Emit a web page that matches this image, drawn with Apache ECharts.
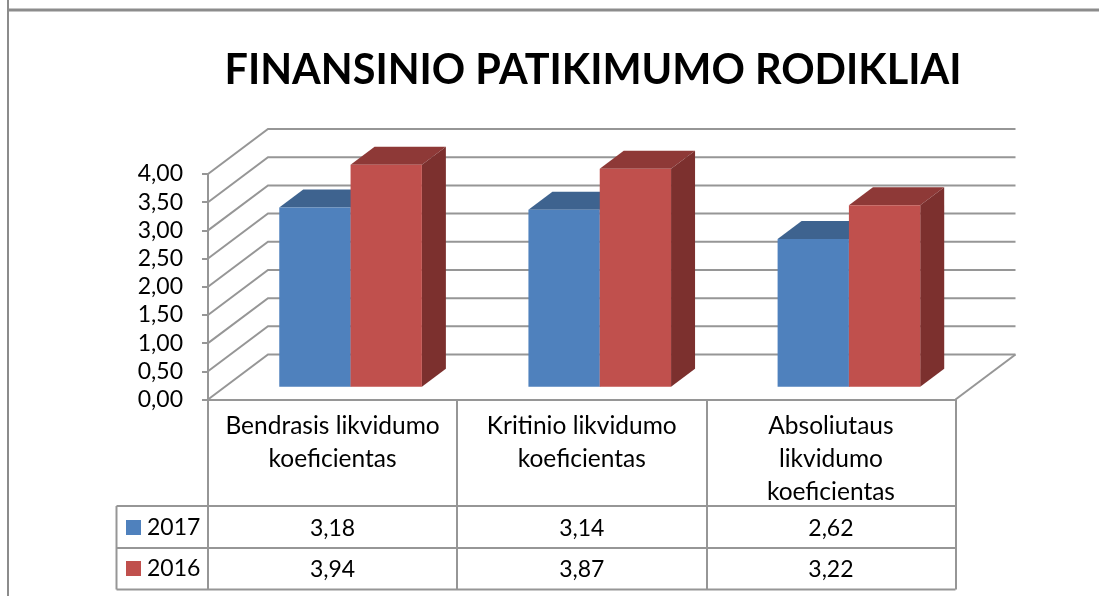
<!DOCTYPE html>
<html>
<head>
<meta charset="utf-8">
<title>Finansinio patikimumo rodikliai</title>
<style>
  html, body { margin: 0; padding: 0; background: #fff; }
  #chart { width: 1099px; height: 596px; }
</style>
<script src="https://cdn.jsdelivr.net/npm/echarts@6/dist/echarts.min.js"></script>
</head>
<body>
<div id="chart"></div>
<script>
  const categories = ['Bendrasis likvidumo\nkoeficientas', 'Kritinio likvidumo\nkoeficientas', 'Absoliutaus\nlikvidumo\nkoeficientas']
  const years = ['2017', '2016']
  const values2017 = [3.18, 3.14, 2.62]
  const values2016 = [3.94, 3.87, 3.22]
  const yTicks = [0, 0.5, 1, 1.5, 2, 2.5, 3, 3.5, 4]

  const FONT = 'Lato'
  const LINE = '#969696'
  // perspective of the wall and of the bars, in pixels
  const WALL_DX = 60
  const WALL_DY = 45
  const DEPTH_DX = 24
  const DEPTH_DY = 18
  const FLOOR_DY = 12.7
  const ROW_Y = [529, 570]

  const fmt = (v) => v.toFixed(2).replace('.', ',')

  function renderWall(params, api) {
    const p = api.coord([0, api.value(0)])
    const left = p[0] - api.size([1, 0])[0] / 2
    const right = left + api.size([1, 0])[0] * 3
    return {
      type: 'polyline',
      silent: true,
      shape: { points: [[left, p[1]], [left + WALL_DX, p[1] - WALL_DY], [right + WALL_DX, p[1] - WALL_DY]] },
      style: { stroke: LINE, lineWidth: 2, fill: null }
    }
  }

  function renderFloor(params, api) {
    const p = api.coord([2, 0])
    const right = p[0] + api.size([1, 0])[0] / 2
    return {
      type: 'line',
      silent: true,
      shape: { x1: right, y1: p[1], x2: right + WALL_DX, y2: p[1] - WALL_DY },
      style: { stroke: LINE, lineWidth: 2 }
    }
  }

  function barRenderer(index, front, top, side) {
    return function (params, api) {
      const band = api.size([1, 0])[0]
      const w = band * 0.2862
      const c = api.coord([api.value(0), api.value(1)])
      const base = api.coord([api.value(0), 0])
      const x = base[0] - band / 2 + band * 0.286 + w * index
      const y0 = base[1] - FLOOR_DY
      const y1 = c[1] - FLOOR_DY
      return {
        type: 'group',
        children: [
          {
            type: 'polygon',
            shape: { points: [[x, y1], [x + DEPTH_DX, y1 - DEPTH_DY], [x + w + DEPTH_DX, y1 - DEPTH_DY], [x + w, y1]] },
            style: { fill: top }
          },
          {
            type: 'polygon',
            shape: { points: [[x + w, y1], [x + w + DEPTH_DX, y1 - DEPTH_DY], [x + w + DEPTH_DX, y0 - DEPTH_DY], [x + w, y0]] },
            style: { fill: side }
          },
          { type: 'rect', shape: { x: x, y: y1, width: w, height: y0 - y1 }, style: { fill: front } }
        ]
      }
    }
  }

  function renderRow(row) {
    return function (params, api) {
      const p = api.coord([api.value(0), 0])
      return {
        type: 'text',
        silent: true,
        style: {
          x: p[0],
          y: ROW_Y[row],
          text: fmt(api.value(1)),
          fill: '#000',
          font: '23px ' + FONT,
          align: 'center',
          verticalAlign: 'middle'
        }
      }
    }
  }

  function renderRules(params, api) {
    const p = api.coord([2, 0])
    const right = p[0] + api.size([1, 0])[0] / 2
    const y = [506, 548, 589.5][params.dataIndex]
    return {
      type: 'line',
      silent: true,
      shape: { x1: 116.5, y1: y, x2: right, y2: y },
      style: { stroke: LINE, lineWidth: 2 }
    }
  }

  const myChart = echarts.init(document.getElementById('chart'), null, { renderer: 'canvas' })
  myChart.setOption({
    animation: false,
    backgroundColor: '#fff',
    title: {
      text: 'FINANSINIO PATIKIMUMO RODIKLIAI',
      left: 588,
      top: 45,
      textAlign: 'center',
      textStyle: { fontFamily: FONT, fontSize: 41.4, fontWeight: 'bold', color: '#000' }
    },
    legend: {
      data: years,
      orient: 'vertical',
      left: 121,
      top: 511,
      itemWidth: 15,
      itemHeight: 15,
      itemGap: 18,
      icon: 'rect',
      selectedMode: false,
      textStyle: { fontFamily: FONT, fontSize: 23, color: '#000', padding: [0, 0, 0, 1] }
    },
    grid: { left: 208, top: 174, width: 747.5, height: 225.5 },
    xAxis: {
      type: 'category',
      data: categories,
      axisLine: { lineStyle: { color: LINE, width: 2 } },
      axisTick: { show: true, length: 190, lineStyle: { color: LINE, width: 2 } },
      axisLabel: {
        interval: 0,
        margin: 10,
        color: '#000',
        fontFamily: FONT,
        fontSize: 24.5,
        lineHeight: 33,
        verticalAlign: 'top'
      }
    },
    yAxis: {
      type: 'value',
      min: 0,
      max: 4,
      interval: 0.5,
      splitLine: { show: false },
      axisLine: { show: true, lineStyle: { color: LINE, width: 2 } },
      axisTick: { show: true, length: 6, lineStyle: { color: LINE, width: 2 } },
      axisLabel: { margin: 25, color: '#000', fontFamily: FONT, fontSize: 23, padding: [8, 0, 0, 0], formatter: fmt }
    },
    series: [
      { type: 'custom', name: 'wall', z: 1, renderItem: renderWall, encode: { y: 0 }, data: yTicks.map((v) => [v]), tooltip: { show: false } },
      { type: 'custom', name: 'floor', z: 1, renderItem: renderFloor, data: [[0]] },
      {
        type: 'custom',
        name: years[0],
        z: 2,
        itemStyle: { color: '#4F81BD' },
        renderItem: barRenderer(0, '#4F81BD', '#3E638F', '#3A5C85'),
        encode: { x: 0, y: 1 },
        data: values2017.map((v, i) => [i, v])
      },
      {
        type: 'custom',
        name: years[1],
        z: 3,
        itemStyle: { color: '#C0504D' },
        renderItem: barRenderer(1, '#C0504D', '#8E3937', '#7C302E'),
        encode: { x: 0, y: 1 },
        data: values2016.map((v, i) => [i, v])
      },
      { type: 'custom', name: 'row2017', z: 4, renderItem: renderRow(0), encode: { x: 0 }, data: values2017.map((v, i) => [i, v]) },
      { type: 'custom', name: 'row2016', z: 4, renderItem: renderRow(1), encode: { x: 0 }, data: values2016.map((v, i) => [i, v]) },
      { type: 'custom', name: 'rules', z: 4, renderItem: renderRules, data: [[0], [1], [2]] }
    ],
    graphic: [
      { type: 'line', silent: true, shape: { x1: 8, y1: 0, x2: 8, y2: 596 }, style: { stroke: '#8C8C8C', lineWidth: 2 } },
      { type: 'line', silent: true, shape: { x1: 8, y1: 10, x2: 1099, y2: 10 }, style: { stroke: '#8C8C8C', lineWidth: 3 } },
      { type: 'line', silent: true, shape: { x1: 116.5, y1: 506, x2: 116.5, y2: 589.5 }, style: { stroke: LINE, lineWidth: 2 } }
    ]
  })
</script>
</body>
</html>
